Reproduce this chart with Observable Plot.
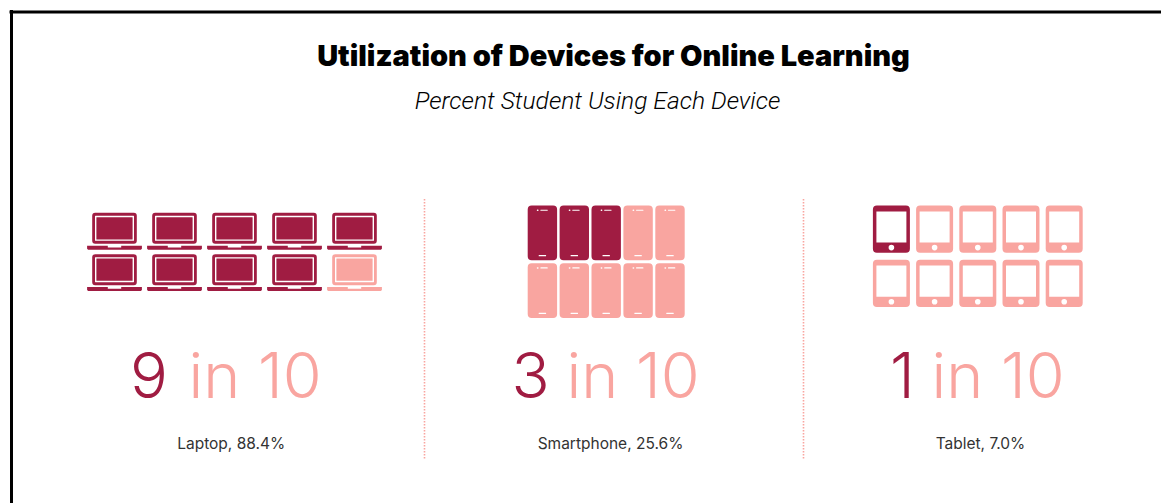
<!DOCTYPE html>
<html>
<head>
<meta charset="utf-8">
<script src="https://cdn.jsdelivr.net/npm/d3@7"></script>
<script src="https://cdn.jsdelivr.net/npm/@observablehq/plot@0.6"></script>
<style>
  html, body { margin: 0; padding: 0; background: #fff; }
  svg { display: block; }
</style>
</head>
<body>
<script>
// Survey results
const devices = ["Laptop", "Smartphone", "Tablet"];
const percents = [88.4, 25.6, 7.0];
const outOfTen = [9, 3, 1];
const groupSize = 10;

const title = "Utilization of Devices for Online Learning";
const subtitle = "Percent Student Using Each Device";

const DARK = "#a01c42";
const LIGHT = "#f9a5a0";

// Rounded rectangle; clockwise=false gives the opposite winding so it cuts a hole.
function roundRect(c, x0, y0, x1, y1, r, clockwise = true) {
  if (clockwise) {
    c.moveTo(x0 + r, y0);
    c.arcTo(x1, y0, x1, y1, r);
    c.arcTo(x1, y1, x0, y1, r);
    c.arcTo(x0, y1, x0, y0, r);
    c.arcTo(x0, y0, x1, y0, r);
  } else {
    c.moveTo(x0 + r, y0);
    c.arcTo(x0, y0, x0, y1, r);
    c.arcTo(x0, y1, x1, y1, r);
    c.arcTo(x1, y1, x1, y0, r);
    c.arcTo(x1, y0, x0, y0, r);
  }
  c.closePath();
}

const laptopSymbol = {
  draw(c) {
    roundRect(c, -22.3, -18.6, 22.3, 12.4, 3);
    roundRect(c, -19.5, -15.6, 19.5, 9.4, 0.4, false);
    roundRect(c, -18.1, -14.2, 18.1, 8, 0.2);
    // base with a notch for the hinge
    c.moveTo(-27.4, 14.2);
    c.lineTo(-6.7, 14.2);
    c.lineTo(-6.7, 16);
    c.lineTo(6.7, 16);
    c.lineTo(6.7, 14.2);
    c.lineTo(27.4, 14.2);
    c.lineTo(27.4, 17.2);
    c.lineTo(26.4, 18.2);
    c.lineTo(-26.4, 18.2);
    c.lineTo(-27.4, 17.2);
    c.closePath();
  }
};

const phoneSymbol = {
  draw(c) {
    roundRect(c, -14.7, -27.4, 14.7, 27.4, 4);
    roundRect(c, -2, -23.2, 5.3, -22, 0.3, false);
    roundRect(c, -5.6, -23.4, -3.8, -21.8, 0.7, false);
    roundRect(c, -3.7, 22.2, 3.7, 23.5, 0.3, false);
  }
};

const tabletSymbol = {
  draw(c) {
    roundRect(c, -18.5, -23.6, 18.5, 23.6, 4);
    roundRect(c, -15, -17.8, 15, 13.4, 0.2, false);
    roundRect(c, -2.8, 15.6, 2.8, 21.2, 2.8, false);
  }
};

// Icon grid geometry and text anchors for each panel
const panels = {
  Laptop:     {symbol: laptopSymbol, cx: 234, cy: 251.6, dx: 60,   dy: 41.3, digit: 129.5, rest: 188, caption: 230.7},
  Smartphone: {symbol: phoneSymbol,  cx: 605.7, cy: 261.2, dx: 31.9, dy: 57.7, digit: 511, rest: 566, caption: 610},
  Tablet:     {symbol: tabletSymbol, cx: 977.3, cy: 255.8, dx: 43.2, dy: 54.2, digit: 889.5, rest: 931, caption: 980}
};

const units = devices.flatMap((device, i) =>
  d3.range(groupSize).map((k) => ({
    device,
    column: k % 5,
    row: Math.floor(k / 5),
    state: k < outOfTen[i] ? "using" : "other"
  }))
);

const summary = devices.map((device, i) => ({
  device,
  count: String(outOfTen[i]),
  rest: `in ${groupSize}`,
  caption: `${device}, ${percents[i].toFixed(1)}%`
}));

const iconMark = (device) => Plot.dot(units.filter((u) => u.device === device), {
  x: (u) => panels[device].cx + (u.column - 2) * panels[device].dx,
  y: (u) => panels[device].cy + (u.row - 0.5) * panels[device].dy,
  r: 1,
  fill: "state",
  stroke: null,
  symbol: panels[device].symbol
});

const chart = Plot.plot({
  width: 1161,
  height: 503,
  margin: 0,
  x: {domain: [0, 1161], range: [0, 1161], axis: null},
  y: {domain: [0, 503], range: [0, 503], axis: null},
  r: {type: "identity"},
  color: {domain: ["using", "other"], range: [DARK, LIGHT]},
  style: {background: "#fff"},
  marks: [
    // frame along the top and left edges
    Plot.ruleY([11.5], {x1: 9.5, x2: 1161, stroke: "#000", strokeWidth: 3}),
    Plot.ruleX([11], {y1: 10, y2: 503, stroke: "#000", strokeWidth: 3}),

    Plot.text([title], {
      x: () => 613, y: () => 56, text: (d) => d,
      fontFamily: "Inter", fontWeight: 900, fontSize: 29, fill: "#000"
    }),
    Plot.text([subtitle], {
      x: () => 597, y: () => 101, text: (d) => d,
      fontFamily: "Roboto", fontStyle: "italic", fontWeight: 300, fontSize: 24.6, fill: "#000"
    }),

    // dotted dividers between the panels
    Plot.ruleX(["Smartphone", "Tablet"], {
      x: (d) => (d === "Smartphone" ? 424 : 803),
      y1: 199, y2: 459,
      stroke: LIGHT, strokeWidth: 1.6, strokeDasharray: "1.5 1.5"
    }),

    ...devices.map(iconMark),

    Plot.text(summary, {
      x: (d) => panels[d.device].digit, y: () => 377, text: "count",
      textAnchor: "start", fontFamily: "Inter", fontWeight: 350, fontSize: 63, fill: DARK
    }),
    Plot.text(summary, {
      x: (d) => panels[d.device].rest, y: () => 377, text: "rest",
      textAnchor: "start", fontFamily: "Inter", fontWeight: 350, fontSize: 63, fill: LIGHT
    }),
    Plot.text(summary, {
      x: (d) => panels[d.device].caption, y: () => 444, text: "caption",
      fontFamily: "Inter", fontSize: 15.5, fill: "#333"
    })
  ]
});

document.body.append(chart);
</script>
</body>
</html>
